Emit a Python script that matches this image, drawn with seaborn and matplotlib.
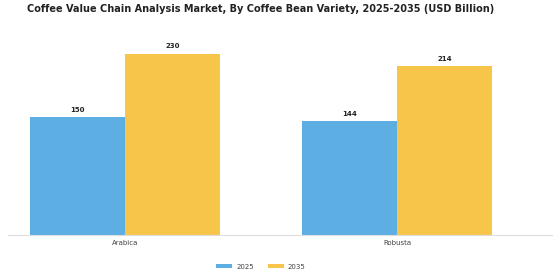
import pandas as pd
import matplotlib.pyplot as plt
import seaborn as sns

# ── Data ───────────────────────────────────────────────────────────────────────
VARIETIES = ["Arabica", "Robusta"]
YEARS     = ["2025", "2035"]
VAL_2025  = [150, 144]
VAL_2035  = [230, 214]

df = pd.DataFrame({
    "variety": VARIETIES * 2,
    "year":    [YEARS[0]] * 2 + [YEARS[1]] * 2,
    "value":   VAL_2025 + VAL_2035,
})

# ── Plot ───────────────────────────────────────────────────────────────────────
sns.set_theme(style="white")
plt.rcParams["font.family"] = ["DejaVu Sans"]

fig = plt.figure(figsize=(5.6, 2.8), dpi=100)
ax = fig.add_axes([0.014, 0.161, 0.972, 0.732])

palette = {"2025": "#5DAEE3", "2035": "#F7C54A"}
sns.barplot(data=df, x="variety", y="value", hue="year", palette=palette,
            width=0.7, saturation=1, linewidth=0, ax=ax, legend=True)

for cont in ax.containers:
    ax.bar_label(cont, fmt="%d", padding=3, fontsize=5, fontweight="bold",
                 color="#222222")

ax.set_xlim(-0.43, 1.57)
ax.set_ylim(0, 260)
ax.set_xlabel(""); ax.set_ylabel("")
ax.set_yticks([])
ax.tick_params(axis="x", labelsize=5, colors="#444444", length=0, pad=4)
for side in ["top", "left", "right"]:
    ax.spines[side].set_visible(False)
ax.spines["bottom"].set_color("#dddddd")
ax.spines["bottom"].set_linewidth(0.8)

fig.suptitle("Coffee Value Chain Analysis Market, By Coffee Bean Variety, 2025-2035 (USD Billion)",
             x=0.466, y=0.985, fontsize=7, fontweight="bold", color="#222222")

ax.legend(loc="upper center", bbox_to_anchor=(0.465, -0.11), ncol=2,
          frameon=False, fontsize=5, handlelength=2.3, handleheight=0.5,
          handletextpad=0.6, columnspacing=2.0, labelcolor="#444444")

fig.savefig("out.png", dpi=100, facecolor="white")
